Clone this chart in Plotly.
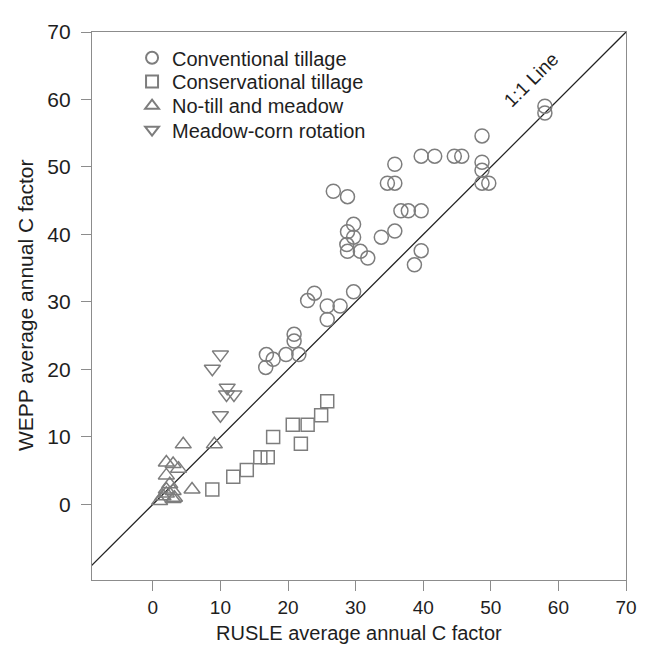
import plotly.graph_objects as go

# Conventional tillage (circles)
conv_x = [58, 58, 48.7, 48.7, 48.7, 48.7, 49.7, 39.7, 41.7, 44.6, 45.7,
          35.8, 34.7, 35.8, 36.7, 37.8, 39.7, 33.8, 35.8, 39.7, 38.7,
          26.7, 28.8, 28.8, 29.7, 29.7, 28.7, 28.8, 30.7, 31.8,
          22.9, 23.9, 25.8, 27.7, 29.7, 25.8,
          20.9, 20.9, 16.8, 17.8, 16.7, 19.7, 21.6]
conv_y = [59, 58, 54.6, 50.7, 49.5, 47.6, 47.6, 51.6, 51.6, 51.6, 51.6,
          50.4, 47.6, 47.6, 43.5, 43.5, 43.5, 39.6, 40.5, 37.6, 35.5,
          46.4, 45.6, 40.4, 41.5, 39.6, 38.5, 37.5, 37.5, 36.5,
          30.2, 31.3, 29.4, 29.4, 31.5, 27.4,
          25.2, 24.2, 22.2, 21.5, 20.3, 22.2, 22.2]

# Conservational tillage (squares)
cons_x = [8.8, 11.9, 13.9, 15.9, 17.0, 17.8, 20.7, 22.9, 21.9, 24.9, 25.8]
cons_y = [2.2, 4.1, 5.1, 7.0, 7.0, 10.0, 11.8, 11.8, 9.0, 13.2, 15.3]

# No-till and meadow (up triangles)
nt_x = [4.5, 9.1, 5.8, 2.0, 3.0, 3.8, 2.0, 2.5, 2.0, 3.0, 1.5, 3.2, 1.0, 3.0, 2.0]
nt_y = [8.9, 8.9, 2.2, 6.2, 6.0, 5.3, 4.3, 3.0, 2.2, 2.0, 1.2, 1.0, 0.5, 0.8, 1.6]

# Meadow-corn rotation (down triangles)
mc_x = [10.0, 8.8, 11.0, 10.9, 12.0, 10.0]
mc_y = [22.2, 20.1, 17.3, 16.3, 16.3, 13.2]

line_x = [-11.2, 70]
line_y = [-11.2, 70]

x_ticks = [0, 10, 20, 30, 40, 50, 60, 70]
y_ticks = [0, 10, 20, 30, 40, 50, 60, 70]

FONT = "Liberation Sans, Arial, sans-serif"
MC = "#7d7d7d"
TC = "#1e1e1e"

fig = go.Figure()
fig.add_trace(go.Scatter(x=line_x, y=line_y, mode="lines",
                         line=dict(color="#222222", width=1.3),
                         showlegend=False, hoverinfo="skip"))

def add(xs, ys, name, sym, size, leg):
    fig.add_trace(go.Scatter(
        x=xs, y=ys, mode="markers", name=name, legend=leg,
        marker=dict(symbol=sym, size=size, color=MC,
                    line=dict(color=MC, width=1.5))))

add(conv_x, conv_y, "Conventional tillage", "circle-open", 14, "legend")
add(cons_x, cons_y, "Conservational tillage", "square-open", 13, "legend2")
add(nt_x, nt_y, "No-till and meadow", "triangle-up-open", 14, "legend3")
add(mc_x, mc_y, "Meadow-corn rotation", "triangle-down-open", 14, "legend4")

fig.add_annotation(x=56, y=63, text="1:1 Line", showarrow=False,
                   textangle=-45, font=dict(family=FONT, size=19, color=TC))

fig.add_annotation(x=0.5, y=0, xref="paper", yref="paper", yshift=-53,
                   xanchor="center", yanchor="middle", showarrow=False,
                   text="RUSLE average annual C factor",
                   font=dict(family=FONT, size=20, color=TC))
fig.add_annotation(x=0, y=0.5, xref="paper", yref="paper", xshift=-67,
                   xanchor="center", yanchor="middle", showarrow=False,
                   textangle=-90, text="WEPP average annual C factor",
                   font=dict(family=FONT, size=21, color=TC))

axis_common = dict(showgrid=False, zeroline=False, showline=True, linecolor="#8c8c8c",
                   linewidth=1.3, mirror=True, ticks="outside", ticklen=10,
                   tickcolor="#8c8c8c", tickwidth=1.3)

def leg(ypos):
    return dict(x=0.075, y=ypos, xanchor="left", yanchor="middle",
                bgcolor="rgba(0,0,0,0)", borderwidth=0,
                font=dict(family=FONT, size=20, color=TC), itemsizing="constant")

fig.update_layout(
    width=641, height=637,
    margin=dict(l=84, r=12, t=14, b=65),
    paper_bgcolor="white", plot_bgcolor="white",
    font=dict(family=FONT, size=20, color=TC),
    xaxis=dict(range=[-9, 70], tickvals=x_ticks, ticklabelstandoff=0,
               tickfont=dict(family=FONT, size=19, color=TC), **axis_common),
    yaxis=dict(range=[-11.2, 70], tickvals=y_ticks, ticklabelstandoff=6,
               tickfont=dict(family=FONT, size=21, color=TC), **axis_common),
    legend=leg(0.953),
    legend2=leg(0.9095),
    legend3=leg(0.8656),
    legend4=leg(0.8217),
    showlegend=True,
)

fig.write_html("out.html")
